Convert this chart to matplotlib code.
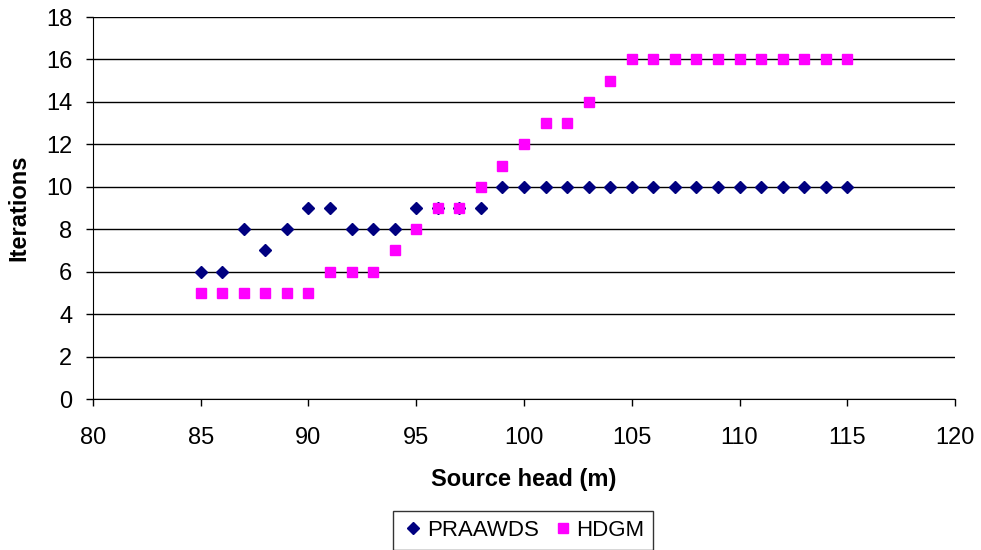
import numpy as np
from matplotlib import pyplot as plt

plt.rcParams['font.family'] = ['Liberation Sans', 'DejaVu Sans']

head = list(range(85, 116))
praawds = [6, 6, 8, 7, 8, 9, 9, 8, 8, 8, 9, 9, 9, 9] + [10] * 17
hdgm = [5, 5, 5, 5, 5, 5, 6, 6, 6, 7, 8, 9, 9, 10, 11, 12, 13, 13, 14, 15] + [16] * 11

fig = plt.figure(figsize=(9.81, 5.5), dpi=100)
ax = fig.add_axes([0.0948, 0.2745, 0.8787, 0.6945])

ax.plot(head, praawds, 'D', color='#000080', markersize=5.8, label='PRAAWDS',
        linestyle='none', zorder=3)
ax.plot(head, hdgm, 's', color='#FF00FF', markersize=7.0, label='HDGM',
        linestyle='none', zorder=3)

ax.set_xlim(80, 120)
ax.set_ylim(0, 18)
ax.set_xticks(np.arange(80, 121, 5))
ax.set_yticks(np.arange(0, 19, 2))
ax.yaxis.grid(True, color='black', linewidth=1)
ax.set_axisbelow(True)
for s in ['top', 'right']:
    ax.spines[s].set_visible(False)
ax.tick_params(labelsize=17, length=5, width=1, direction='out')
ax.tick_params(axis='x', pad=15)
ax.tick_params(axis='y', pad=10)

ax.set_xlabel('Source head (m)', fontsize=17, fontweight='bold', labelpad=14)
ax.set_ylabel('Iterations', fontsize=17, fontweight='bold', labelpad=11)

leg = fig.legend(loc='center', bbox_to_anchor=(0.5336, 0.036), ncol=2,
                 fontsize=16, frameon=True, fancybox=False, edgecolor='black',
                 handletextpad=0.1, columnspacing=0.6, borderpad=0.4,
                 handlelength=1.0)
leg.get_frame().set_linewidth(1)

fig.savefig('out.png', dpi=100)
